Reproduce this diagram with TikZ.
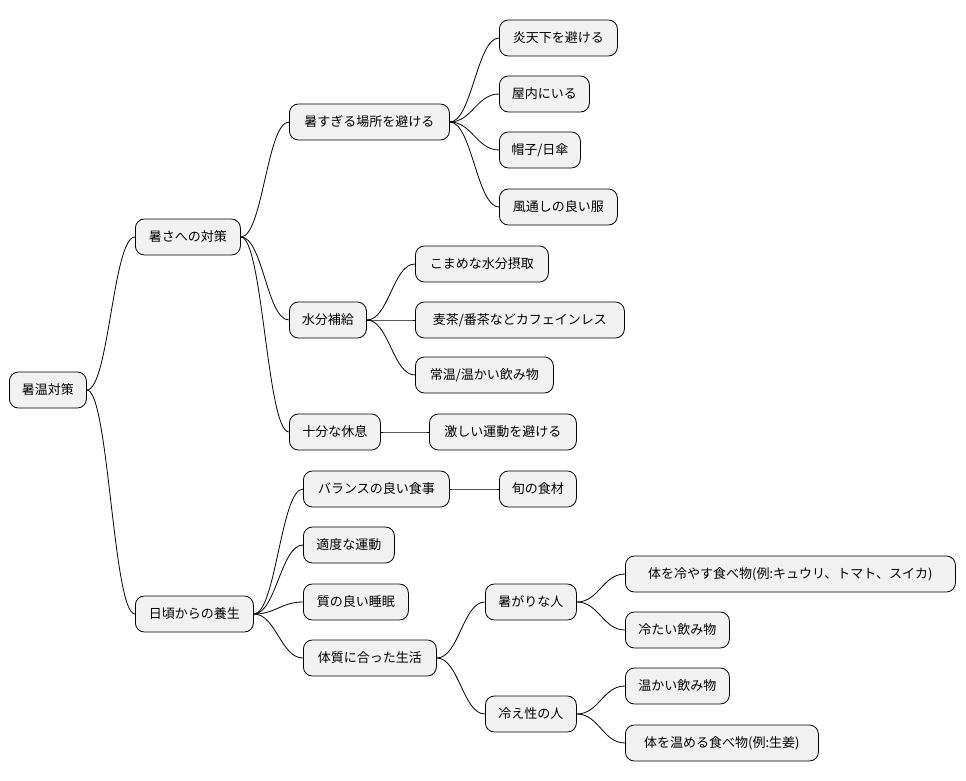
\documentclass[tikz,border=0pt]{standalone}
\usepackage{fontspec}
\setmainfont{Noto Sans CJK JP}
\begin{document}
\begin{tikzpicture}[x=1pt,y=-1pt,
  mm/.style={draw=black,line width=0.8pt,fill={rgb,255:red,241;green,241;blue,241},rounded corners=9pt,
    minimum height=36pt,inner xsep=0pt,anchor=west,font=\fontsize{13}{15}\selectfont},
  lk/.style={draw=black,line width=0.8pt}]
\useasboundingbox[fill=white] (0,0) rectangle (966,781);
\newcommand\mmnode[5]{\node[mm,minimum width=#4] (#1) at (#2,#3) {#5};}
\mmnode{r}{9}{390}{77}{暑温対策}
\mmnode{a}{135}{237}{105}{暑さへの対策}
\mmnode{b}{135}{614}{118}{日頃からの養生}
\mmnode{a1}{289}{122}{160}{暑すぎる場所を避ける}
\mmnode{a11}{499}{38}{118}{炎天下を避ける}
\mmnode{a12}{499}{94}{90}{屋内にいる}
\mmnode{a13}{499}{150}{81}{帽子/日傘}
\mmnode{a14}{499}{207}{118}{風通しの良い服}
\mmnode{a2}{289}{320}{77}{水分補給}
\mmnode{a21}{415}{264}{133}{こまめな水分摂取}
\mmnode{a22}{415}{320}{209}{麦茶/番茶などカフェインレス}
\mmnode{a23}{415}{375}{138}{常温/温かい飲み物}
\mmnode{a3}{289}{432}{91}{十分な休息}
\mmnode{a31}{429}{432}{147}{激しい運動を避ける}
\mmnode{b1}{303}{489}{146}{バランスの良い食事}
\mmnode{b11}{499}{489}{77}{旬の食材}
\mmnode{b2}{303}{545}{91}{適度な運動}
\mmnode{b3}{303}{602}{105}{質の良い睡眠}
\mmnode{b4}{303}{658}{133}{体質に合った生活}
\mmnode{b41}{485}{602}{91}{暑がりな人}
\mmnode{b411}{625}{574}{330}{体を冷やす食べ物(例:キュウリ、トマト、スイカ)}
\mmnode{b412}{625}{630}{104}{冷たい飲み物}
\mmnode{b42}{485}{714}{91}{冷え性の人}
\mmnode{b421}{625}{686}{104}{温かい飲み物}
\mmnode{b422}{625}{743}{193}{体を温める食べ物(例:生姜)}
\foreach \p/\c in {r/a,r/b,a/a1,a/a2,a/a3,a1/a11,a1/a12,a1/a13,a1/a14,a2/a21,a2/a22,a2/a23,a3/a31,
  b/b1,b/b2,b/b3,b/b4,b1/b11,b4/b41,b4/b42,b41/b411,b41/b412,b42/b421,b42/b422}
  \draw[lk] (\p.east) .. controls ([xshift=22pt]\p.east) and ([xshift=-22pt]\c.west) .. (\c.west);
\end{tikzpicture}
\end{document}
